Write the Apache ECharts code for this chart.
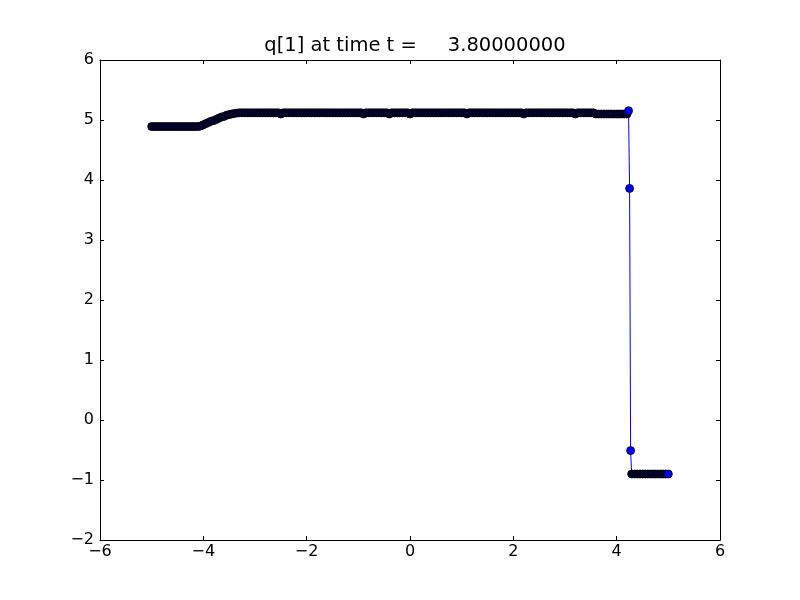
<!DOCTYPE html>
<html>
<head>
<meta charset="utf-8">
<script src="https://cdn.jsdelivr.net/npm/echarts@6/dist/echarts.min.js"></script>
<style>html,body{margin:0;padding:0;background:#fff;}#c{width:800px;height:600px;}</style>
</head>
<body>
<div id="c"></div>
<script>
const titleText = 'q[1] at time t =     3.80000000';
const xValues = [
  -5.00,-4.95,-4.90,-4.85,-4.80,-4.75,-4.70,-4.65,-4.60,-4.55,-4.50,-4.45,-4.40,-4.35,-4.30,-4.25,-4.20,-4.15,-4.10,-4.05,
  -4.00,-3.95,-3.90,-3.85,-3.80,-3.75,-3.70,-3.65,-3.60,-3.55,-3.50,-3.45,-3.40,-3.35,-3.30,-3.25,-3.20,-3.15,-3.10,-3.05,
  -3.00,-2.95,-2.90,-2.85,-2.80,-2.75,-2.70,-2.65,-2.60,-2.55,-2.50,-2.45,-2.40,-2.35,-2.30,-2.25,-2.20,-2.15,-2.10,-2.05,
  -2.00,-1.95,-1.90,-1.85,-1.80,-1.75,-1.70,-1.65,-1.60,-1.55,-1.50,-1.45,-1.40,-1.35,-1.30,-1.25,-1.20,-1.15,-1.10,-1.05,
  -1.00,-0.95,-0.90,-0.85,-0.80,-0.75,-0.70,-0.65,-0.60,-0.55,-0.50,-0.45,-0.40,-0.35,-0.30,-0.25,-0.20,-0.15,-0.10,-0.05,
  0.00,0.05,0.10,0.15,0.20,0.25,0.30,0.35,0.40,0.45,0.50,0.55,0.60,0.65,0.70,0.75,0.80,0.85,0.90,0.95,
  1.00,1.05,1.10,1.15,1.20,1.25,1.30,1.35,1.40,1.45,1.50,1.55,1.60,1.65,1.70,1.75,1.80,1.85,1.90,1.95,
  2.00,2.05,2.10,2.15,2.20,2.25,2.30,2.35,2.40,2.45,2.50,2.55,2.60,2.65,2.70,2.75,2.80,2.85,2.90,2.95,
  3.00,3.05,3.10,3.15,3.20,3.25,3.30,3.35,3.40,3.45,3.50,3.55,3.60,3.65,3.70,3.75,3.80,3.85,3.90,3.95,
  4.00,4.05,4.10,4.15,4.20,4.23,4.25,4.27,4.29,4.35,4.40,4.45,4.50,4.55,4.60,4.65,4.70,4.75,4.80,4.85,
  4.90,4.95,5.00
];
const qValues = [
  4.89,4.89,4.89,4.89,4.89,4.89,4.89,4.89,4.89,4.89,4.89,4.89,4.89,4.89,4.89,4.89,4.89,4.89,4.89,4.90,
  4.92,4.94,4.96,4.98,4.99,5.01,5.03,5.05,5.06,5.08,5.09,5.10,5.11,5.115,5.12,5.12,5.12,5.12,5.12,5.12,
  5.12,5.12,5.12,5.12,5.12,5.12,5.12,5.12,5.12,5.12,5.10,5.12,5.12,5.12,5.12,5.12,5.12,5.12,5.12,5.12,
  5.12,5.12,5.12,5.12,5.12,5.12,5.12,5.12,5.12,5.12,5.12,5.12,5.12,5.12,5.12,5.12,5.12,5.12,5.12,5.12,
  5.12,5.12,5.10,5.12,5.12,5.12,5.12,5.12,5.12,5.12,5.12,5.12,5.10,5.12,5.12,5.12,5.12,5.12,5.12,5.12,
  5.10,5.12,5.12,5.12,5.12,5.12,5.12,5.12,5.12,5.12,5.12,5.12,5.12,5.12,5.12,5.12,5.12,5.12,5.12,5.12,
  5.12,5.12,5.10,5.12,5.12,5.12,5.12,5.12,5.12,5.12,5.12,5.12,5.12,5.12,5.12,5.12,5.12,5.12,5.12,5.12,
  5.12,5.12,5.12,5.12,5.10,5.12,5.12,5.12,5.12,5.12,5.12,5.12,5.12,5.12,5.12,5.12,5.12,5.12,5.12,5.12,
  5.12,5.12,5.12,5.12,5.10,5.12,5.12,5.12,5.12,5.12,5.12,5.12,5.10,5.10,5.10,5.10,5.10,5.10,5.10,5.10,
  5.10,5.10,5.10,5.10,5.10,5.155,3.86,-0.51,-0.90,-0.90,-0.90,-0.90,-0.90,-0.90,-0.90,-0.90,-0.90,-0.90,-0.90,-0.90,
  -0.90,-0.90,-0.90
];
const xTicks = [-6,-4,-2,0,2,4,6];
const yTicks = [-2,-1,0,1,2,3,4,5,6];

const data = xValues.map((x, i) => [x, qValues[i]]);
const fmt = v => (v < 0 ? '\u2212' + Math.abs(v) : String(v));
const FONT = 'DejaVu Sans';

function axisBase(min, max, interval, pos, showLabel, margin) {
  return {
    type: 'value', min: min, max: max, interval: interval, position: pos,
    axisLine: { show: true, onZero: false, lineStyle: { color: '#000', width: 1 } },
    axisTick: { show: true, inside: true, length: 4, lineStyle: { color: '#000', width: 1 } },
    axisLabel: { show: showLabel, color: '#000', fontSize: 16, fontFamily: FONT, margin: margin, formatter: fmt },
    splitLine: { show: false }
  };
}

const chart = echarts.init(document.getElementById('c'), null, { renderer: 'canvas' });
chart.setOption({
  animation: false,
  backgroundColor: '#fff',
  title: {
    text: titleText, left: 410, top: 31, textAlign: 'center',
    textStyle: { fontFamily: FONT, fontSize: 19.5, fontWeight: 'normal', color: '#000' }
  },
  grid: { left: 100, right: 80, top: 60, bottom: 60, containLabel: false },
  xAxis: [
    axisBase(xTicks[0], xTicks[xTicks.length - 1], 2, 'bottom', true, 4),
    axisBase(xTicks[0], xTicks[xTicks.length - 1], 2, 'top', false, 4)
  ],
  yAxis: [
    axisBase(yTicks[0], yTicks[yTicks.length - 1], 1, 'left', true, 6),
    axisBase(yTicks[0], yTicks[yTicks.length - 1], 1, 'right', false, 6)
  ],
  series: [{
    type: 'line',
    xAxisIndex: 0, yAxisIndex: 0,
    data: data,
    symbol: 'circle',
    symbolSize: 8,
    showAllSymbol: true,
    lineStyle: { color: '#0000ff', width: 1 },
    itemStyle: {
      borderColor: '#000',
      borderWidth: 0.8,
      color: function (p) {
        const i = p.dataIndex;
        if (i === data.length - 1) return '#0000ff';
        const dy = Math.abs(data[i + 1][1] - data[i][1]);
        return dy > 0.3 ? '#0000ff' : '#000038';
      }
    },
    emphasis: { disabled: true }
  }]
});
</script>
</body>
</html>
